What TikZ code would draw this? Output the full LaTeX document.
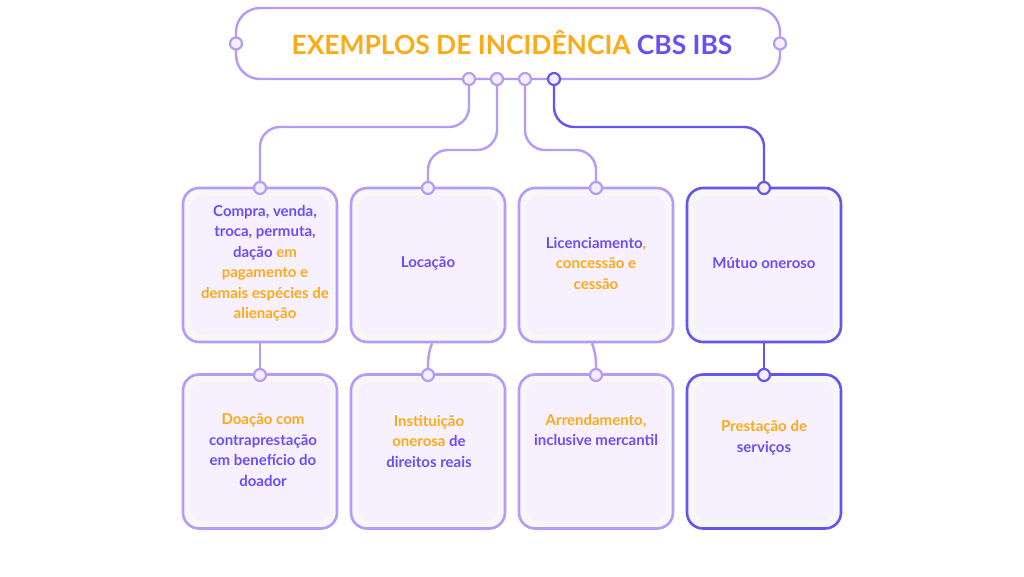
\documentclass[tikz,border=0pt]{standalone}
\usepackage{fontspec}
\setmainfont{Lato}
\definecolor{lilac}{HTML}{B69AF8}
\definecolor{violet}{HTML}{6454F0}
\definecolor{ink}{HTML}{6B4EF6}
\definecolor{amber}{HTML}{FDAA17}
\definecolor{mist}{HTML}{F6F0FF}
\definecolor{haze}{HTML}{F7F7F8}
\definecolor{dotfill}{HTML}{F4EEFF}
\tikzstyle{cardLight}=[shape = rectangle, rounded corners = 16pt, minimum width = 154pt, minimum height = 154pt, draw = lilac, line width = 2.6pt, fill = haze,
  path picture = {\fill[mist, rounded corners = 10pt] ([shift = {(8pt,-8pt)}]path picture bounding box.north west) rectangle ([shift = {(-8pt,8pt)}]path picture bounding box.south east);}]
\tikzstyle{cardDark}=[cardLight, draw = violet]
\tikzstyle{dotLight}=[shape = circle, minimum size = 12pt, inner sep = 0pt, draw = lilac, fill = dotfill, line width = 2.2pt]
\tikzstyle{dotDark}=[dotLight, draw = violet]

\begin{document}
\begin{tikzpicture}[x = 1pt, y = -1pt]
\tikzstyle{wireLight} = [draw = lilac, line width = 2.4pt, rounded corners = 20pt]
\tikzstyle{wireDark} = [wireLight, draw = violet]
\tikzstyle{cardText} = [align = center, text = ink, font = \bfseries\fontsize{15}{20.5}\selectfont]
\useasboundingbox[fill = white] (0,0) rectangle (1024,576);
% title
\node[shape = rectangle, rounded corners = 24pt, minimum width = 544pt, minimum height = 71pt, draw = lilac, line width = 2.4pt] (head) at (508,43.5) {};
\node[text = amber, font = \bfseries\fontsize{26.4}{28}\selectfont] (title) at (512,43) {EXEMPLOS DE INCIDÊNCIA \textcolor{ink}{CBS IBS}};
\node[dotLight] (sl) at (236,43.5) {};
\node[dotLight] (sr) at (780,43.5) {};
\node[dotLight] (h1) at (469,79) {};
\node[dotLight] (h2) at (497,79) {};
\node[dotLight] (h3) at (525,79) {};
\node[dotDark] (h4) at (554,79) {};
% cards
\node[cardLight] (c1) at (260,265) {};
\node[cardLight] (c2) at (428,265) {};
\node[cardLight] (c3) at (596,265) {};
\node[cardDark] (c4) at (764,265) {};
\node[cardLight] (c5) at (260,451.5) {};
\node[cardLight] (c6) at (428,451.5) {};
\node[cardLight] (c7) at (596,451.5) {};
\node[cardDark] (c8) at (764,451.5) {};
\node[dotLight] (d1) at (260,188) {};
\node[dotLight] (d2) at (428,188) {};
\node[dotLight] (d3) at (596,188) {};
\node[dotDark] (d4) at (764,188) {};
\node[dotLight] (e1) at (260,375) {};
\node[dotLight] (e2) at (428,375) {};
\node[dotLight] (e3) at (596,375) {};
\node[dotDark] (e4) at (764,375) {};
% texts
\node[cardText] (t1) at (265,263.5) {Compra, venda,\\troca, permuta,\\dação \textcolor{amber}{em}\\\textcolor{amber}{pagamento e}\\\textcolor{amber}{demais espécies de}\\\textcolor{amber}{alienação}};
\node[cardText] (t2) at (428,263) {Locação};
\node[cardText] (t3) at (596,263) {Licenciamento\textcolor{amber}{,}\\\textcolor{amber}{concessão e}\\\textcolor{amber}{cessão}};
\node[cardText] (t4) at (764,263) {Mútuo oneroso};
\node[cardText] (t5) at (263,450) {\textcolor{amber}{Doação com}\\contraprestação\\em benefício do\\doador};
\node[cardText] (t6) at (429,441) {\textcolor{amber}{Instituição}\\\textcolor{amber}{onerosa} de\\direitos reais};
\node[cardText] (t7) at (596,430) {\textcolor{amber}{Arrendamento,}\\inclusive mercantil};
\node[cardText] (t8) at (764,438) {\textcolor{amber}{Prestação de}\\serviços};
% wires
\draw[wireLight] (h1) -- (h1 |- 0,127) -| (d1);
\draw[wireLight] (h2) -- (h2 |- 0,150) -| (d2);
\draw[wireLight] (h3) -- (h3 |- 0,150) -| (d3);
\draw[wireDark] (h4) -- (h4 |- 0,127) -| (d4);
\draw[wireLight] (c1) -- (e1);
\draw[wireLight] ([xshift = 4pt]c2.south) to[out = -110, in = 90] (e2);
\draw[wireLight] ([xshift = -4pt]c3.south) to[out = -70, in = 90] (e3);
\draw[wireDark] (c4) -- (e4);
\end{tikzpicture}
\end{document}
